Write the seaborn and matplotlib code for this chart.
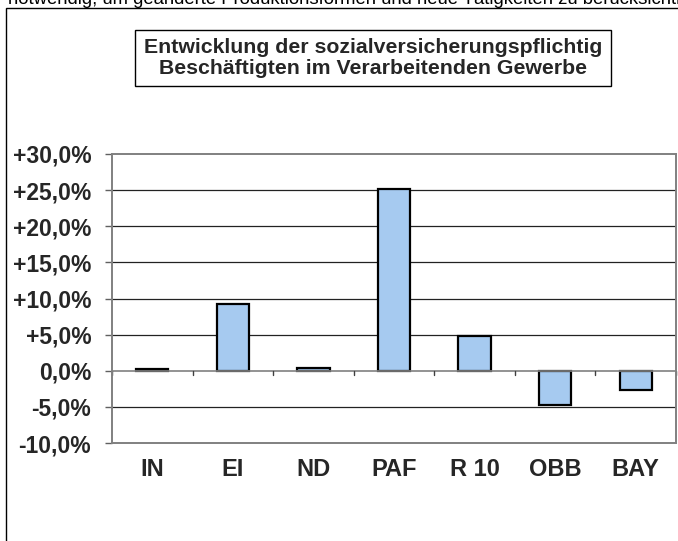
import matplotlib
matplotlib.use("Agg")
import matplotlib.pyplot as plt
import seaborn as sns
import pandas as pd
from matplotlib.patches import Rectangle

# Daten
regionen = ['IN', 'EI', 'ND', 'PAF', 'R 10', 'OBB', 'BAY']
veraenderung = [0.3, 9.3, 0.4, 25.2, 4.8, -4.7, -2.6]
y_ticks = [-10, -5, 0, 5, 10, 15, 20, 25, 30]

titel = "Entwicklung der sozialversicherungspflichtig\nBeschäftigten im Verarbeitenden Gewerbe"
kopfzeile = "notwendig, um geänderte Produktionsformen und neue Tätigkeiten zu berücksichtigen"

df = pd.DataFrame({'Region': regionen, 'Wert': veraenderung})

sns.set_style("white")
plt.rcParams['font.family'] = ['Liberation Sans', 'DejaVu Sans']

W, H = 678, 541
fig = plt.figure(figsize=(W / 100, H / 100), dpi=100)
fig.patch.set_facecolor('white')

# Rahmen um das Diagramm (rechts/unten angeschnitten)
fig.patches.append(Rectangle((6 / W, -0.05), 1.1, 1.05 - 8 / H,
                             transform=fig.transFigure, fill=False,
                             edgecolor='black', linewidth=1.0))
# Text oberhalb (im Original oben angeschnitten)
fig.text(8 / W, 1 - 4 / H, kopfzeile, fontsize=13.3, ha='left', va='baseline',
         color='black')

# Titel im Kasten
fig.text(373 / W, 1 - 58 / H, titel, fontsize=15.3, fontweight='bold',
         ha='center', va='center', linespacing=1.1,
         bbox=dict(boxstyle='square,pad=0.4', facecolor='white',
                   edgecolor='black', linewidth=1.0))

ax = fig.add_axes([112 / W, (H - 443) / H, (676 - 112) / W, (443 - 154) / H])

sns.barplot(data=df, x='Region', y='Wert', ax=ax, color='#a6caf0',
            edgecolor='black', linewidth=1.6, width=0.4, saturation=1)

ax.set_ylim(-10, 30)
ax.set_xlim(-0.5, len(regionen) - 0.5)
ax.set_yticks(y_ticks)
ax.set_yticklabels([f"{v:+.1f}%".replace('.', ',').replace('+0,0', '0,0') for v in y_ticks],
                   fontsize=16.5, fontweight='bold')

# Gitterlinien
for v in y_ticks[1:-1]:
    if v != 0:
        ax.axhline(v, color='#222222', linewidth=0.9, zorder=0)

# Nulllinie mit Teilstrichen zwischen den Kategorien
ax.axhline(0, color='#808080', linewidth=1.2, zorder=1)
for i in range(len(regionen) + 1):
    ax.plot([i - 0.5, i - 0.5], [0, -0.65], color='#404040', linewidth=1.0,
            clip_on=False, zorder=1)

for s in ax.spines.values():
    s.set_color('#808080')
    s.set_linewidth(1.4)

ax.tick_params(axis='y', left=True, length=5, width=1, color='#606060', pad=10)
ax.tick_params(axis='x', bottom=False, length=0, pad=11)
ax.set_xticks(range(len(regionen)))
ax.set_xticklabels(regionen, fontsize=17, fontweight='bold')
ax.set_xlabel('')
ax.set_ylabel('')

fig.savefig('out.png', dpi=100)
